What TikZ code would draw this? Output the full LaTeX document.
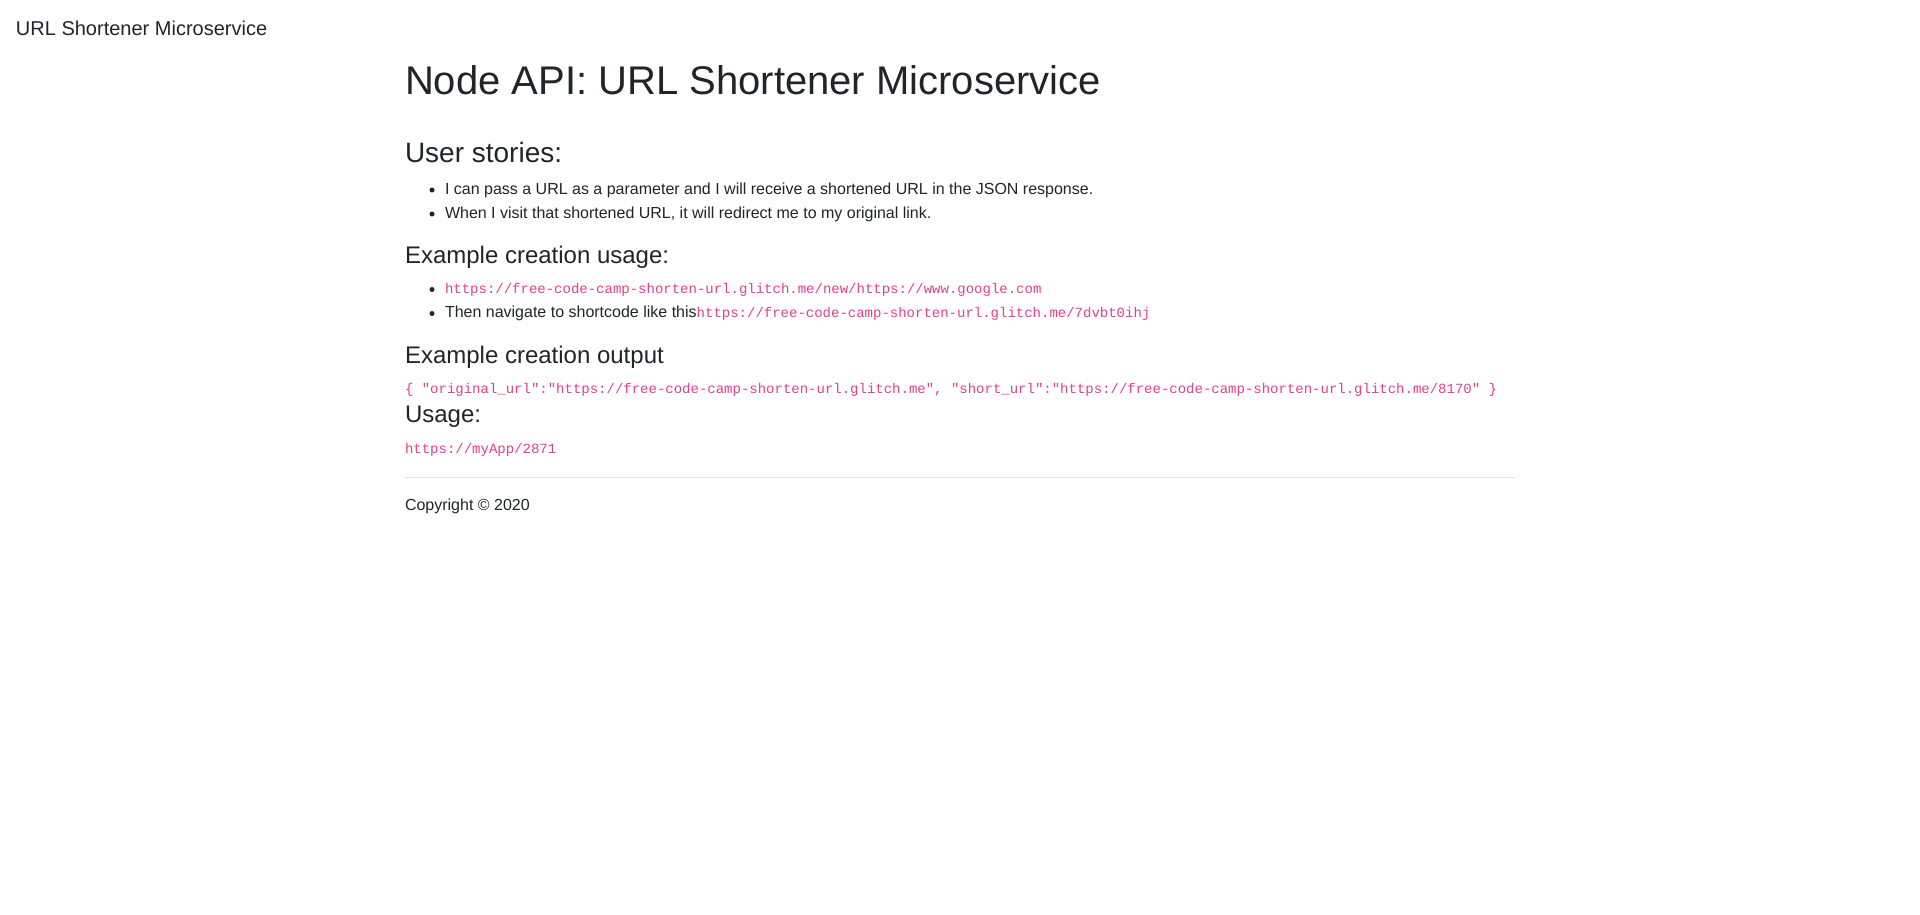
\documentclass[tikz,border=0pt]{standalone}
\usepackage{fontspec}
\setmainfont{Liberation Sans}
\setmonofont{Liberation Mono}
\definecolor{bodytext}{HTML}{212529}
\definecolor{codepink}{HTML}{E83E8C}
\definecolor{rulegray}{HTML}{E5E5E5}
\begin{document}
\begin{tikzpicture}[x=0.75pt,y=-0.75pt,
  txt/.style={anchor=base west,inner sep=0pt,outer sep=0pt,text=bodytext},
  brand/.style={txt,font=\fontsize{15}{18}\selectfont},
  hone/.style={txt,font=\fontsize{30}{36}\selectfont},
  hthree/.style={txt,font=\fontsize{21}{25}\selectfont},
  hfour/.style={txt,font=\fontsize{18}{22}\selectfont},
  body/.style={txt,font=\fontsize{12}{18}\selectfont},
  codetxt/.style={txt,text=codepink,font=\ttfamily\fontsize{10.5}{14}\selectfont},
  dot/.style={circle,fill=bodytext,inner sep=0pt,minimum size=3.75pt}]
\useasboundingbox[fill=white] (0,0) rectangle (1920,914);

\node[brand] (brandtitle) at (16,35.5) {URL Shortener Microservice};

\node[hone] (title) at (405,94) {Node API: URL Shortener Microservice};

\node[hthree] (stories) at (405,162.5) {User stories:};
\node[dot] (b1) at (432,190) {};
\node[body] (s1) at (445,194.3) {I can pass a URL as a parameter and I will receive a shortened URL in the JSON response.};
\node[dot] (b2) at (432,214) {};
\node[body] (s2) at (445,218.3) {When I visit that shortened URL, it will redirect me to my original link.};

\node[hfour] (usage) at (405,263) {Example creation usage:};
\node[dot] (b3) at (432,289.5) {};
\node[codetxt] (u1) at (445,293.8) {https://free-code-camp-shorten-url.glitch.me/new/https://www.google.com};
\node[dot] (b4) at (432,313.5) {};
\node[body] (u2) at (445,317.8) {Then navigate to shortcode like this};
\node[codetxt] (u2code) at (u2.base east) {https://free-code-camp-shorten-url.glitch.me/7dvbt0ihj};

\node[hfour] (output) at (405,363) {Example creation output};
\node[codetxt] (json) at (405,393.5) {\{ "original\_url":"https://free-code-camp-shorten-url.glitch.me", "short\_url":"https://free-code-camp-shorten-url.glitch.me/8170" \}};

\node[hfour] (usagehead) at (405,422) {Usage:};
\node[codetxt] (myapp) at (405,453.3) {https://myApp/2871};

\coordinate (hrl) at (405,477);
\coordinate (hrr) at (1515,477);
\draw[rulegray,line width=0.75pt] (hrl) -- (hrr);

\node[body] (copy) at (405,510.7) {Copyright © 2020};
\end{tikzpicture}
\end{document}
